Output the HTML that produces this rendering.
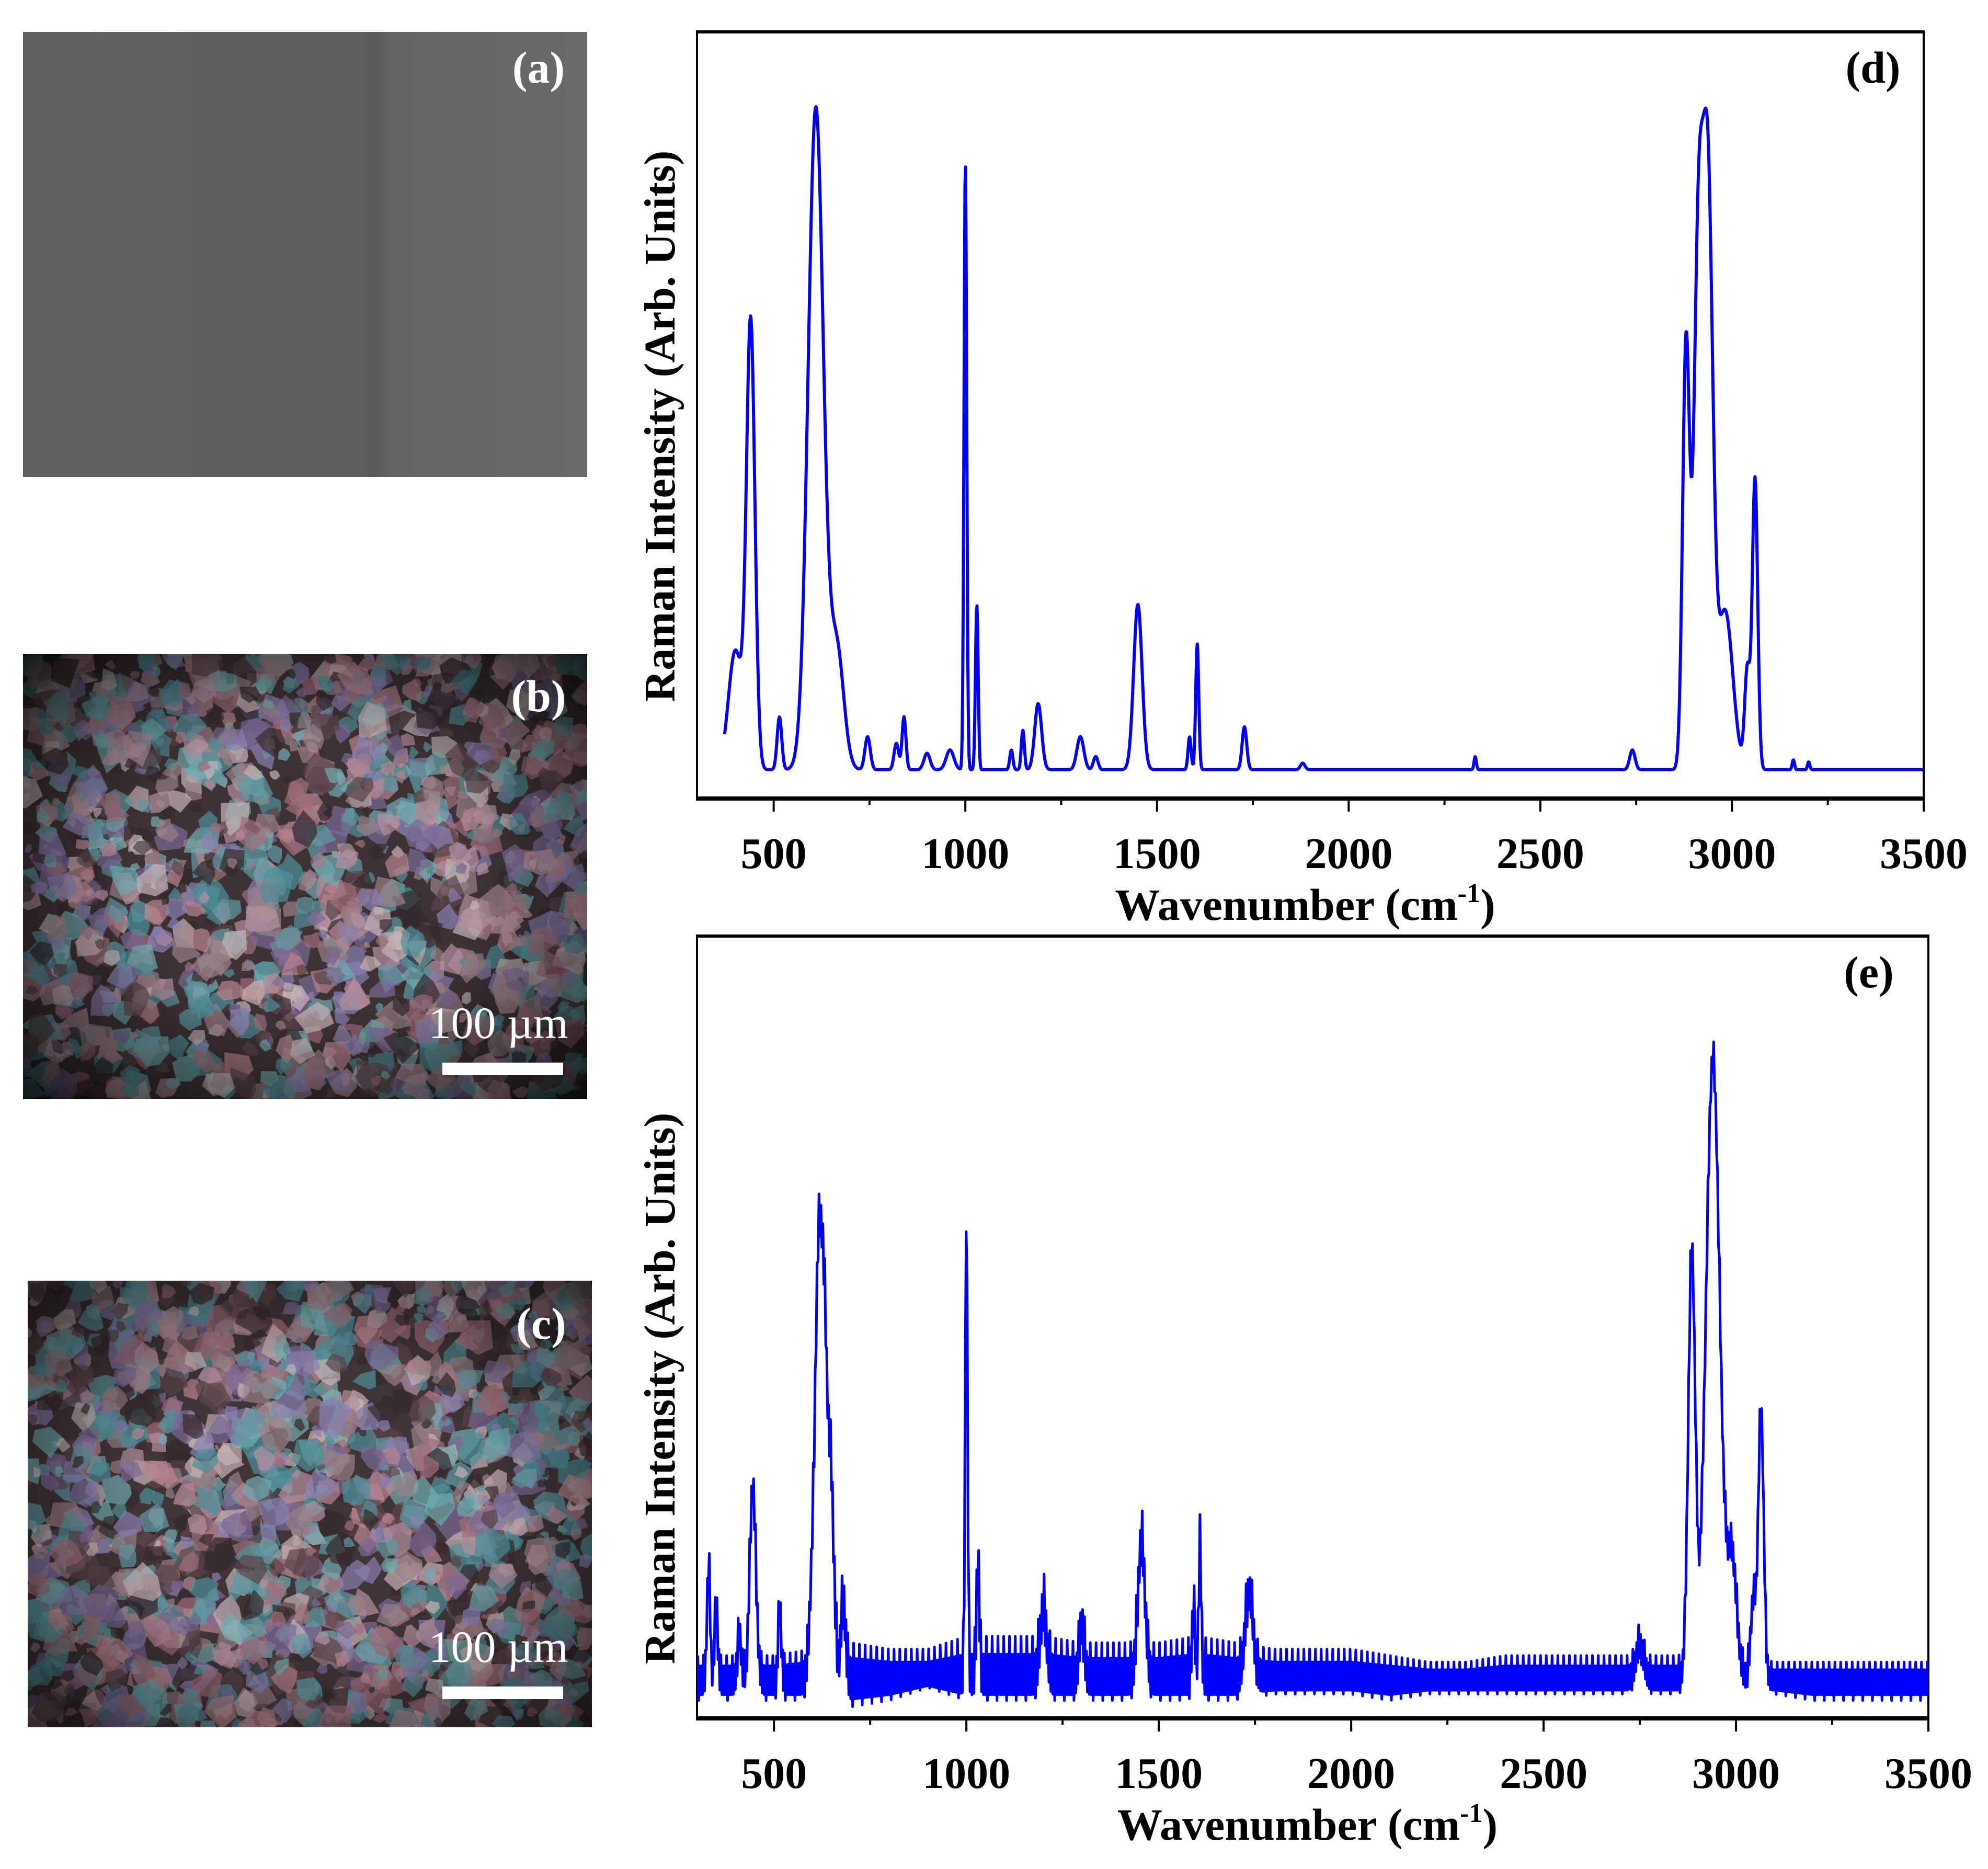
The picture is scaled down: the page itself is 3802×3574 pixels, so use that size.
<!DOCTYPE html>
<html><head><meta charset="utf-8"><style>
html,body{margin:0;padding:0;background:#fff}
svg{display:block}
text{font-family:"Liberation Serif",serif;font-weight:bold}
</style></head><body>
<svg id="fig" width="3802" height="3574" viewBox="0 0 3802 3574" xmlns="http://www.w3.org/2000/svg">
<defs>
<radialGradient id="vig" cx="0.5" cy="0.5" r="0.7">
<stop offset="0.45" stop-color="#000" stop-opacity="0"/>
<stop offset="0.85" stop-color="#000" stop-opacity="0.55"/>
<stop offset="1" stop-color="#000" stop-opacity="0.8"/>
</radialGradient>
<linearGradient id="grayg" x1="0" x2="1" y1="0" y2="0">
<stop offset="0" stop-color="#626264"/><stop offset="0.6" stop-color="#5f5f61"/><stop offset="0.62" stop-color="#59595b"/><stop offset="0.65" stop-color="#646466"/><stop offset="1" stop-color="#6a6a6c"/>
</linearGradient>
<clipPath id="clipb"><rect x="44" y="1251" width="1079" height="851"/></clipPath>
<clipPath id="clipc"><rect x="53" y="2449" width="1079" height="854"/></clipPath>
<clipPath id="clipd"><rect x="1333" y="61" width="2346" height="1466"/></clipPath>
<clipPath id="clipe"><rect x="1333" y="1790" width="2355" height="1496"/></clipPath>
</defs>

<g>
<rect x="44" y="61" width="1079" height="851" fill="url(#grayg)"/>
<text x="1030" y="158" fill="#fff" font-size="86" text-anchor="middle">(a)</text>
</g>

<g>
<rect x="44" y="1251" width="1079" height="851" fill="#3e3236"/>
<g id="grainsb" clip-path="url(#clipb)"></g>
<rect x="44" y="1251" width="1079" height="851" fill="url(#vig)"/>
<text x="1030" y="1360" fill="#fff" font-size="86" text-anchor="middle">(b)</text>
<text x="953" y="1985" fill="#fff" font-size="86" style="font-weight:normal" text-anchor="middle">100 µm</text>
<rect x="846" y="2032" width="231" height="24" fill="#fff"/>
</g>

<g>
<rect x="53" y="2449" width="1079" height="854" fill="#403438"/>
<g id="grainsc" clip-path="url(#clipc)"></g>
<rect x="53" y="2449" width="1079" height="854" fill="url(#vig)" opacity="0.8"/>
<text x="1035" y="2560" fill="#fff" font-size="86" text-anchor="middle">(c)</text>
<text x="953" y="3178" fill="#fff" font-size="86" style="font-weight:normal" text-anchor="middle">100 µm</text>
<rect x="846" y="3225" width="231" height="24" fill="#fff"/>
</g>

<g id="chartd"></g>
<g id="charte"></g>
</svg>
<script>
// ---------- data: chart (d) peaks (wavenumber, height, width sigma) ----------
const dCenters = [400, 440, 515, 610, 665, 745, 820, 840, 900, 960, 1000, 1030, 1120, 1150, 1190, 1300, 1340, 1450, 1585, 1605, 1728, 1880, 2330, 2740, 2880, 2912, 2937, 2982, 3040, 3060, 3160, 3200];
const dHeights = [18, 67, 8, 100, 18, 5, 4, 8, 2.5, 3, 92, 25, 3, 6, 10, 5, 2, 25, 5, 19, 6.5, 1, 2, 3, 64, 76, 86, 24, 15, 44, 1.5, 1.2];
const dWidths  = [18, 11, 6, 20, 18, 7, 6, 5, 8, 10, 3.5, 3.5, 4, 4, 9, 9, 6, 11, 4, 4, 6, 6, 3, 7, 9, 12, 13, 20, 7, 7, 3, 3];
// ---------- data: chart (e) peaks ----------
const eCenters = [330, 350, 410, 445, 515, 600, 615, 630, 648, 680, 1000, 1030, 1200, 1300, 1455, 1590, 1607, 1735, 2750, 2885, 2940, 2990, 3045, 3065];
const eHeights = [18, 12, 7, 30, 11, 14, 57, 52, 30, 12, 73, 19, 10, 8, 21, 9, 19, 13, 5, 66, 96, 18, 12, 42];
const eWidths  = [4, 4, 5, 8, 4, 8, 8, 8, 8, 6, 3, 3.5, 8, 6, 9, 4, 3.5, 10, 10, 9, 18, 12, 7, 7];
// noise envelope (e), every 100 cm-1 from 300 to 3500, in intensity units
const eNoiseLo = [-3, -3, -3, -3, -4, -3, -1, -3, -3, -3, -3, -3, -3, -3, -3, -2, -2, -2, -3, -2, -2, -2, -2, -2, -2, -2, -2, -2, -2, -3, -3, -3, -3];
const eNoiseHi = [4, 4, 4, 5, 6, 5, 5, 7, 7, 7, 6, 6, 6, 7, 6, 5, 5, 5, 4, 3, 3, 4, 4, 4, 4, 4, 4, 4, 3, 3, 3, 3, 3];
const xTicks = [500, 1000, 1500, 2000, 2500, 3000, 3500];
const xTickLabels = ["500", "1000", "1500", "2000", "2500", "3000", "3500"];

const NS = "http://www.w3.org/2000/svg";
function mk(tag, attrs, parent){const e=document.createElementNS(NS,tag);for(const k in attrs)e.setAttribute(k,attrs[k]);parent.appendChild(e);return e;}

function spectrum(cs, hs, ws, x){let s=0;for(let i=0;i<cs.length;i++){const d=(x-cs[i])/ws[i];if(Math.abs(d)<8)s+=hs[i]*Math.exp(-0.5*d*d);}return s;}

function drawChart(g, cfg){
  const xs = v => cfg.x0 + (v-300)/(3500-300)*(cfg.x1-cfg.x0);
  const ys = v => cfg.yBase - v*cfg.kY;
  const fr = mk('rect',{x:cfg.x0,y:cfg.y0,width:cfg.x1-cfg.x0,height:cfg.y1-cfg.y0,fill:'none',stroke:'#000','stroke-width':4},g);
  
  
  const ax = mk('line',{x1:cfg.x0-2,x2:cfg.x1+2,y1:cfg.y1,y2:cfg.y1,stroke:'#000','stroke-width':8},g);
  
  
  const tp = mk('line',{x1:cfg.x0-2,x2:cfg.x1+2,y1:cfg.y0,y2:cfg.y0,stroke:'#000','stroke-width':6},g);
  
  
  for(let v=500; v<=3500; v+=250){
    const major = v%500===0;
    const t = mk('line',{x1:xs(v),x2:xs(v),y1:cfg.y1,y2:cfg.y1+(major?25:12),stroke:'#000','stroke-width':4},g);
    
    
  }
  xTicks.forEach((v,i)=>{
    const t = mk('text',{x:xs(v),y:cfg.y1+133,'font-size':84,'text-anchor':'middle'},g);
    t.textContent = xTickLabels[i];
    
    
  });
  const xt = mk('text',{x:(xs(300)+xs(3500))/2-10,y:cfg.y1+232,'font-size':86,'text-anchor':'middle'},g);
  xt.innerHTML = 'Wavenumber (cm<tspan font-size="52" dy="-34">-1</tspan><tspan dy="34">)</tspan>';
  
  
  const yt = mk('text',{x:0,y:0,'font-size':84,'text-anchor':'middle',transform:`translate(${cfg.ytx},${cfg.yty}) rotate(-90)`},g);
  yt.textContent = 'Raman Intensity (Arb. Units)';
  
  
  const pl = mk('text',{x:cfg.lx,y:cfg.ly,'font-size':86,'text-anchor':'middle'},g);
  pl.textContent = cfg.label;
  
  
  const pg = mk('g',{'clip-path':`url(#${cfg.clip})`},g);
  
  
  let pts=[];
  const step = cfg.lo ? 2.5 : 1.5;
  let k=0;
  for(let x=cfg.start;x<=3500;x+=step,k++){
    let s=spectrum(cfg.cs,cfg.hs,cfg.ws,x);
    if(cfg.lo){
      const i=Math.min(Math.floor((x-300)/100),31), f=(x-300)/100-i;
      const lo=cfg.lo[i]*(1-f)+cfg.lo[i+1]*f, hi=cfg.hi[i]*(1-f)+cfg.hi[i+1]*f;
      s += (k%2===0) ? hi*((k%6===0)?1:0.6) : lo*((k%10===1)?1:0.7);
    }
    pts.push(xs(x).toFixed(1)+','+ys(s).toFixed(1));
  }
  const line = mk('polyline',{points:pts.join(' '),fill:'none',stroke:'#0000ff','stroke-width':cfg.lo?5:6,'stroke-linejoin':'round'},pg);
  
  
}

drawChart(document.getElementById('chartd'),{x0:1333,x1:3679,y0:61,y1:1527,yBase:1472,kY:12.66,cs:dCenters,hs:dHeights,ws:dWidths,start:372,clip:'clipd',label:'(d)',lx:3582,ly:158,ytx:1290,yty:815});
drawChart(document.getElementById('charte'),{x0:1333,x1:3688,y0:1790,y1:3286,yBase:3215,kY:12.3,cs:eCenters,hs:eHeights,ws:eWidths,lo:eNoiseLo,hi:eNoiseHi,start:302,clip:'clipe',label:'(e)',lx:3574,ly:1888,ytx:1290,yty:2655});

// microscope grain textures (decorative)
function grains(id, x0, y0, w, h, seed){
  const g=document.getElementById(id);
  let s=seed; const r=()=>{s=(s*16807)%2147483647;return s/2147483647;};
  const cols=['#b88490','#5f9aa4','#8a80b0','#5b4448','#c6b4b6','#a06e7a','#4f9098','#7c6a96','#988088','#362a2e','#70acb0','#b490a0'];
  for(let i=0;i<1500;i++){
    const cx=x0+r()*w, cy=y0+r()*h, rad=9+r()*28;
    const n=5+Math.floor(r()*3); let p=[];
    for(let k=0;k<n;k++){const a=k/n*6.283+r()*0.6, rr=rad*(0.6+r()*0.6);p.push((cx+Math.cos(a)*rr).toFixed(0)+','+(cy+Math.sin(a)*rr).toFixed(0));}
    mk('polygon',{points:p.join(' '),fill:cols[Math.floor(r()*cols.length)],opacity:0.7},g);
  }
}
grains('grainsb',44,1251,1079,851,12345);
grains('grainsc',53,2449,1079,854,67890);
</script>
</body></html>
